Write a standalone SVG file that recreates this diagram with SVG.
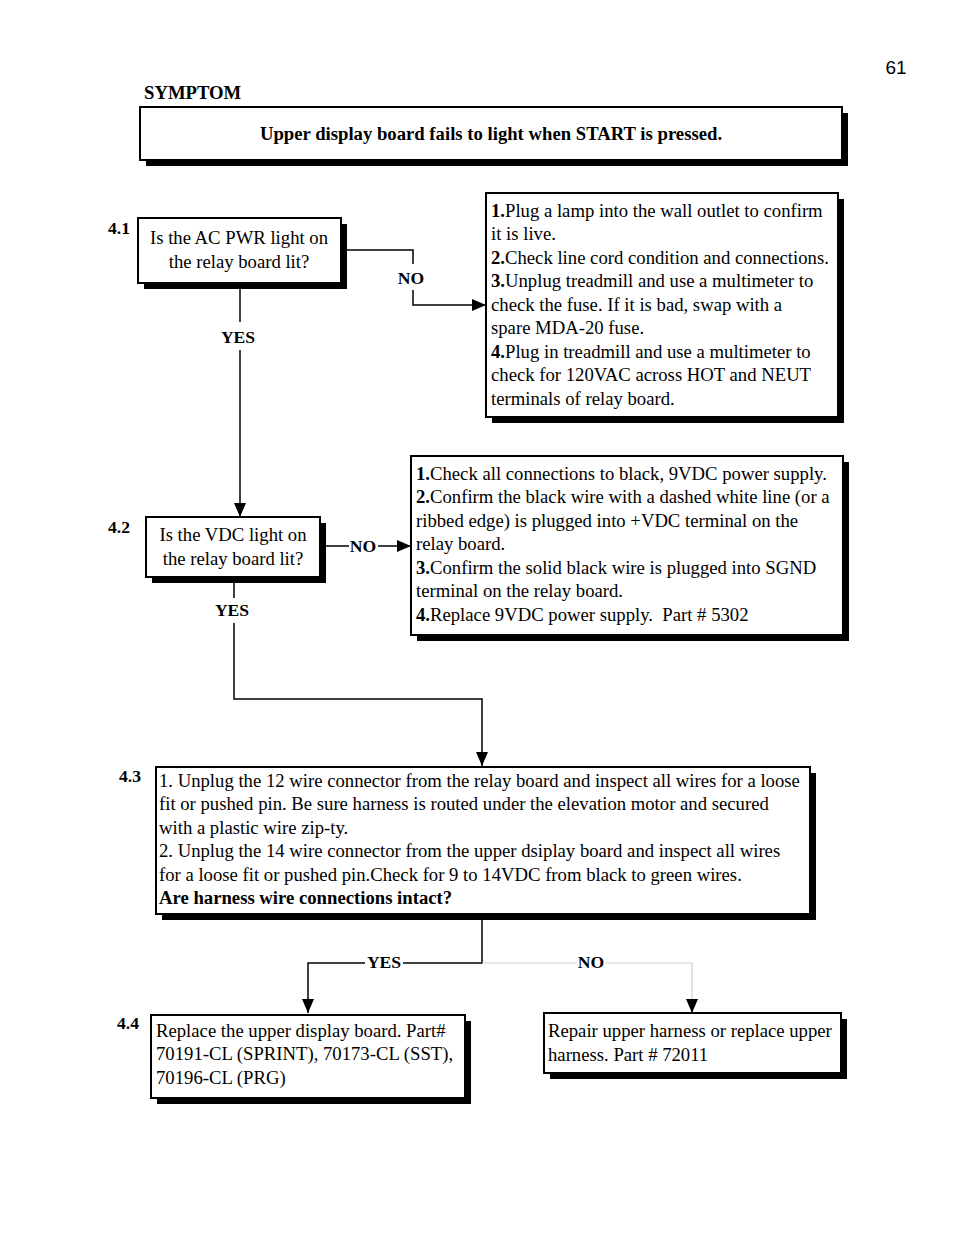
<svg xmlns="http://www.w3.org/2000/svg" width="954" height="1235" viewBox="0 0 954 1235">
<style>
.box{fill:#fff;stroke:#000;stroke-width:2}
.sh{fill:#000}
.t{font-family:"Liberation Serif","Times New Roman",serif;font-size:18.7px;fill:#000}
.b{font-weight:bold}
.lb{font-family:"Liberation Serif","Times New Roman",serif;font-size:17.6px;font-weight:bold;fill:#000}
.c{text-anchor:middle}
.ln{fill:none;stroke:#000;stroke-width:1.5}
.lg{fill:none;stroke:#d0d0d0;stroke-width:1.2}
</style>
<defs>
<marker id="arv" viewBox="0 0 14 14" refX="14" refY="7" markerWidth="14" markerHeight="14" markerUnits="userSpaceOnUse" orient="auto">
<path d="M0,1 L14,7 L0,13 Z" fill="#000"/>
</marker>
</defs>
<rect width="954" height="1235" fill="#fff"/>
<text x="896" y="74" style="font-family:'Liberation Sans',Arial,sans-serif;font-size:19px" class="c">61</text>

<g id="symptom">
<text x="144" y="99" class="lb" style="font-size:18.7px">SYMPTOM</text>
<rect x="146" y="113" width="702" height="53" class="sh"/>
<rect x="140" y="107" width="702" height="53" class="box"/>
<text x="491" y="139.5" class="t b c">Upper display board fails to light when START is pressed.</text>
</g>

<g id="connectors">
<polyline points="341,250 413,250 413,264" class="ln"/>
<polyline points="413,290 413,305 486,305" class="ln" marker-end="url(#arv)"/>
<text x="411" y="284" class="lb c">NO</text>
<line x1="240" y1="282" x2="240" y2="322" class="ln"/>
<text x="238" y="343" class="lb c">YES</text>
<line x1="240" y1="350" x2="240" y2="517" class="ln" marker-end="url(#arv)"/>
<line x1="320" y1="546" x2="349" y2="546" class="ln"/>
<text x="363" y="552" class="lb c">NO</text>
<line x1="378" y1="546" x2="411" y2="546" class="ln" marker-end="url(#arv)"/>
<line x1="234" y1="577" x2="234" y2="598" class="ln"/>
<text x="232" y="616" class="lb c">YES</text>
<polyline points="234,623 234,699 482,699 482,766" class="ln" marker-end="url(#arv)"/>
<polyline points="482,914 482,963 403,963" class="ln"/>
<text x="384" y="968" class="lb c">YES</text>
<polyline points="365,963 308,963 308,1013" class="ln" marker-end="url(#arv)"/>
<polyline points="482,963 577,963" class="lg"/>
<text x="591" y="968" class="lb c">NO</text>
<polyline points="606,963 692,963 692,1000" class="lg"/>
<line x1="692" y1="999" x2="692" y2="1013" class="ln" marker-end="url(#arv)"/>
</g>

<g id="n41">
<text x="108" y="234" class="lb">4.1</text>
<rect x="144" y="224" width="203" height="65" class="sh"/>
<rect x="138" y="218" width="203" height="65" class="box"/>
<text x="239" y="243.5" class="t c">Is the AC PWR light on</text>
<text x="239" y="267.5" class="t c">the relay board lit?</text>
</g>

<g id="r41">
<rect x="492" y="199" width="352" height="224" class="sh"/>
<rect x="486" y="193" width="352" height="224" class="box"/>
<text x="491" y="216.5" class="t"><tspan class="b">1.</tspan>Plug a lamp into the wall outlet to confirm</text>
<text x="491" y="240" class="t">it is live.</text>
<text x="491" y="263.5" class="t"><tspan class="b">2.</tspan>Check line cord condition and connections.</text>
<text x="491" y="287" class="t"><tspan class="b">3.</tspan>Unplug treadmill and use a multimeter to</text>
<text x="491" y="310.5" class="t">check the fuse. If it is bad, swap with a</text>
<text x="491" y="334" class="t">spare MDA-20 fuse.</text>
<text x="491" y="357.5" class="t"><tspan class="b">4.</tspan>Plug in treadmill and use a multimeter to</text>
<text x="491" y="381" class="t">check for 120VAC across HOT and NEUT</text>
<text x="491" y="404.5" class="t">terminals of relay board.</text>
</g>

<g id="n42">
<text x="108" y="533" class="lb">4.2</text>
<rect x="152" y="523" width="174" height="60" class="sh"/>
<rect x="146" y="517" width="174" height="60" class="box"/>
<text x="233" y="540.5" class="t c">Is the VDC light on</text>
<text x="233" y="564.5" class="t c">the relay board lit?</text>
</g>

<g id="r42">
<rect x="417" y="462" width="432" height="179" class="sh"/>
<rect x="411" y="456" width="432" height="179" class="box"/>
<text x="416" y="479.5" class="t"><tspan class="b">1.</tspan>Check all connections to black, 9VDC power supply.</text>
<text x="416" y="503" class="t"><tspan class="b">2.</tspan>Confirm the black wire with a dashed white line (or a</text>
<text x="416" y="526.5" class="t">ribbed edge) is plugged into +VDC terminal on the</text>
<text x="416" y="550" class="t">relay board.</text>
<text x="416" y="573.5" class="t"><tspan class="b">3.</tspan>Confirm the solid black wire is plugged into SGND</text>
<text x="416" y="597" class="t">terminal on the relay board.</text>
<text x="416" y="620.5" class="t" xml:space="preserve"><tspan class="b">4.</tspan>Replace 9VDC power supply.  Part # 5302</text>
</g>

<g id="n43">
<text x="119" y="782" class="lb">4.3</text>
<rect x="162" y="773" width="654" height="147" class="sh"/>
<rect x="156" y="767" width="654" height="147" class="box"/>
<text x="159" y="786.5" class="t">1. Unplug the 12 wire connector from the relay board and inspect all wires for a loose</text>
<text x="159" y="810" class="t">fit or pushed pin. Be sure harness is routed under the elevation motor and secured</text>
<text x="159" y="833.5" class="t">with a plastic wire zip-ty.</text>
<text x="159" y="857" class="t">2. Unplug the 14 wire connector from the upper dsiplay board and inspect all wires</text>
<text x="159" y="880.5" class="t">for a loose fit or pushed pin.Check for 9 to 14VDC from black to green wires.</text>
<text x="159" y="904" class="t b">Are harness wire connections intact?</text>
</g>

<g id="n44">
<text x="117" y="1029" class="lb">4.4</text>
<rect x="157" y="1021" width="314" height="83" class="sh"/>
<rect x="151" y="1015" width="314" height="83" class="box"/>
<text x="156" y="1036.5" class="t">Replace the upper display board. Part#</text>
<text x="156" y="1060" class="t">70191-CL (SPRINT), 70173-CL (SST),</text>
<text x="156" y="1083.5" class="t">70196-CL (PRG)</text>
</g>

<g id="n45">
<rect x="550" y="1019" width="297" height="60" class="sh"/>
<rect x="544" y="1013" width="297" height="60" class="box"/>
<text x="548" y="1036.5" class="t">Repair upper harness or replace upper</text>
<text x="548" y="1060.5" class="t">harness. Part # 72011</text>
</g>
</svg>
